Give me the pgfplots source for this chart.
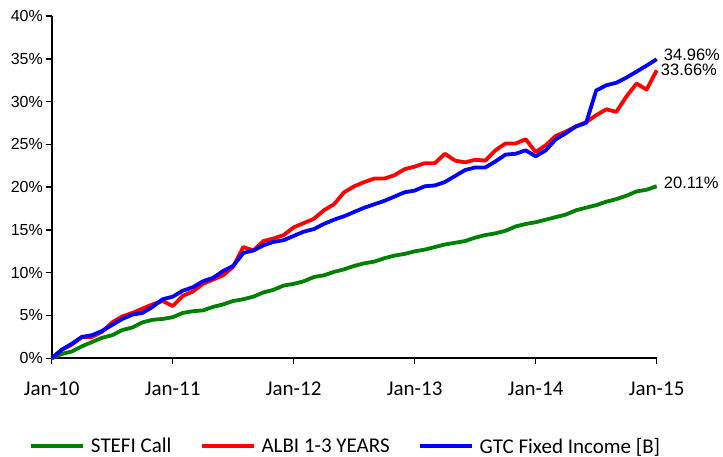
\documentclass[border=0pt]{standalone}
\usepackage{fontspec}
\setmainfont{Carlito}
\newfontfamily\arial{Liberation Sans}
\usepackage{pgfplots}
\usepackage{pgfplotstable}
\pgfplotsset{compat=1.18}
\pgfplotstableread{
m g r b
0 0 0 0
1 0.5 1.0 1.0
2 0.8 1.6 1.7
3 1.4 2.5 2.5
4 1.9 2.5 2.7
5 2.4 3.1 3.2
6 2.7 4.2 3.9
7 3.3 4.9 4.6
8 3.6 5.3 5.1
9 4.2 5.8 5.3
10 4.5 6.3 6.0
11 4.6 6.7 6.9
12 4.8 6.1 7.2
13 5.3 7.3 7.9
14 5.5 7.8 8.3
15 5.6 8.7 9.0
16 6.0 9.2 9.4
17 6.3 9.7 10.2
18 6.7 10.7 10.8
19 6.9 13.0 12.3
20 7.2 12.6 12.6
21 7.7 13.7 13.2
22 8.0 14.0 13.6
23 8.5 14.4 13.8
24 8.7 15.3 14.3
25 9.0 15.8 14.8
26 9.5 16.3 15.1
27 9.7 17.3 15.7
28 10.1 18.0 16.2
29 10.4 19.4 16.6
30 10.8 20.1 17.1
31 11.1 20.6 17.6
32 11.3 21.0 18.0
33 11.7 21.0 18.4
34 12.0 21.4 18.9
35 12.2 22.1 19.4
36 12.5 22.4 19.6
37 12.7 22.8 20.1
38 13.0 22.8 20.2
39 13.3 23.9 20.6
40 13.5 23.1 21.3
41 13.7 22.9 22.0
42 14.1 23.2 22.3
43 14.4 23.1 22.3
44 14.6 24.3 23.0
45 14.9 25.1 23.8
46 15.4 25.1 23.9
47 15.7 25.6 24.3
48 15.9 24.1 23.6
49 16.2 24.9 24.3
50 16.5 26.0 25.6
51 16.8 26.5 26.3
52 17.3 27.1 27.1
53 17.6 27.6 27.5
54 17.9 28.4 31.3
55 18.3 29.1 31.9
56 18.6 28.8 32.2
57 19.0 30.6 32.8
58 19.5 32.1 33.5
59 19.7 31.4 34.2
60 20.11 33.66 34.96
}\data
\definecolor{cgreen}{RGB}{0,128,0}
\definecolor{cred}{RGB}{255,0,0}
\definecolor{cblue}{RGB}{0,0,255}
\begin{document}
\begin{tikzpicture}[x=1pt,y=1pt]
\path[use as bounding box] (-51.7,-98.7) rectangle (671.3,358.3);
\begin{axis}[
  at={(0,0)}, anchor=south west,
  scale only axis, width=605pt, height=342.3pt,
  xmin=0, xmax=60, ymin=0, ymax=40,
  axis x line=bottom, axis y line=left,
  axis line style={line width=2pt,-},
  clip=false,
  tick align=outside,
  major tick length=6pt,
  tick style={line width=1.5pt, black},
  xtick={0,12,24,36,48,60},
  xticklabels={Jan-10,Jan-11,Jan-12,Jan-13,Jan-14,Jan-15},
  xticklabel style={font=\fontsize{21}{24}\selectfont, inner sep=0pt, anchor=north, yshift=-17pt},
  ytick={0,5,...,40},
  yticklabels={0\%,5\%,10\%,15\%,20\%,25\%,30\%,35\%,40\%},
  yticklabel style={font=\arial\fontsize{16}{19}\selectfont, inner sep=0pt, anchor=east, xshift=-2.7pt},
  legend columns=3,
  legend style={at={(0,0)}, anchor=west, xshift=-22.7pt, yshift=-88pt,
    draw=none, fill=none, inner sep=0pt, outer sep=0pt,
    font=\fontsize{21}{24}\selectfont,
    nodes={inner sep=0pt},
    /tikz/every odd column/.append style={column sep=6pt},
    /tikz/every even column/.append style={column sep=28pt}},
  legend image code/.code={\draw[#1, line width=4pt] (0pt,0pt) -- (52pt,0pt);},
  every axis plot/.append style={line width=3.8pt, line join=round, mark=none},
]
\addplot[cgreen] table[x=m,y=g] {\data};
\addlegendentry{STEFI Call}
\addplot[cred] table[x=m,y=r] {\data};
\addlegendentry{ALBI 1-3 YEARS}
\addplot[cblue] table[x=m,y=b] {\data};
\addlegendentry{GTC Fixed Income [B]}
\node[anchor=west, inner sep=0pt, font=\arial\fontsize{16.5}{19}\selectfont] at (axis cs:60,34.96) [xshift=7pt, yshift=4.5pt] {34.96\%};
\node[anchor=west, inner sep=0pt, font=\arial\fontsize{16.5}{19}\selectfont] at (axis cs:60,33.66) [xshift=4pt, yshift=0pt] {33.66\%};
\node[anchor=west, inner sep=0pt, font=\arial\fontsize{16.5}{19}\selectfont] at (axis cs:60,20.11) [xshift=7pt, yshift=3pt] {20.11\%};
\end{axis}
\end{tikzpicture}
\end{document}
